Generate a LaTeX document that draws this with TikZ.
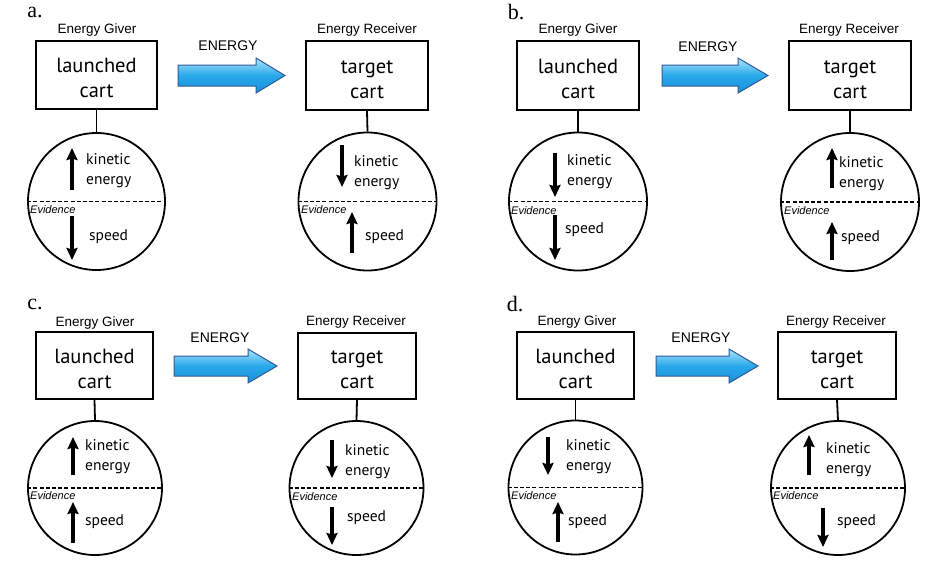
\documentclass[tikz,border=0pt]{standalone}
\usepackage{fontspec}
\usetikzlibrary{arrows.meta}
\newfontfamily\myr{PT Sans}
\newfontfamily\arl{Liberation Sans}
\newfontfamily\srf{Liberation Serif}
\newcommand\twoline[2]{\raisebox{-10.5pt}[0pt][0pt]{\begin{tabular}{@{}c@{}}#1\\#2\end{tabular}}}
\definecolor{arrowline}{RGB}{50,90,150}
\definecolor{arrowtop}{RGB}{170,228,250}
\definecolor{arrowmid}{RGB}{40,168,234}
\definecolor{arrowbot}{RGB}{25,145,218}
\tikzset{
  panellabel/.style={inner sep=0pt, font=\srf\fontsize{22}{24}\selectfont},
  rolelabel/.style={inner sep=0pt, font=\arl\fontsize{13.5}{16}\selectfont},
  cartbox/.style={draw, line width=1.8pt, inner sep=0pt,
    font=\myr\fontsize{20.5}{25}\selectfont},
  evcircle/.style={draw, circle, line width=1.8pt, inner sep=0pt},
  link/.style={line width=1.8pt},
  divider/.style={line width=1.9pt, dash pattern=on 4pt off 2.2pt},
  evid/.style={anchor=west, inner sep=0pt, font=\arl\itshape\fontsize{11}{13}\selectfont},
  ketext/.style={anchor=west, align=left, inner sep=0pt,
    font=\myr\fontsize{15.5}{20}\selectfont},
  sptext/.style={anchor=west, inner sep=0pt, font=\myr\fontsize{15.5}{20}\selectfont},
  quant/.style={line width=3.1pt, -{Stealth[length=12pt,width=11pt,inset=1.5pt]}},
  energyarrow/.style={draw=arrowline, line width=1pt, line join=miter,
    top color=arrowtop, bottom color=arrowbot, middle color=arrowmid},
  energylabel/.style={inner sep=0pt, font=\arl\fontsize{14}{16}\selectfont},
}
\begin{document}
\begin{tikzpicture}[x=1pt,y=-1pt]
\useasboundingbox (0,0) rectangle (928,563);
\fill[white] (0,0) rectangle (928,563);

% ---------------- panel a ----------------
\node[panellabel] (la) at (35,12) {a.};
\node[rolelabel] (aGl) at (97,30) {Energy Giver};
\node[cartbox, minimum width=121pt, minimum height=68pt] (aG) at (96.5,75) {\twoline{launched}{cart}};
\node[evcircle, minimum size=137pt] (aGc) at (96.5,201.5) {};
\draw[link] (aG.south) -- (aGc.north);
\draw[divider] (aGc.west) -- (aGc.east);
\node[evid] (aGev) at (30,210) {Evidence};
\draw[quant] (72,190) -- (72,148);
\node[ketext] (aGk) at (86,171) {kinetic\\energy};
\draw[quant] (72,216) -- (72,260);
\node[sptext] (aGs) at (89,237) {speed};

\node[energylabel] (aEl) at (228,46) {ENERGY};
\path[energyarrow] (178,65) -- (256,65) -- (256,58) -- (285,75.5) -- (256,93) -- (256,86) -- (178,86) -- cycle;

\node[rolelabel] (aRl) at (367,30) {Energy Receiver};
\node[cartbox, minimum width=122pt, minimum height=69pt] (aR) at (367,75.5) {\twoline{target}{cart}};
\node[evcircle, minimum size=138pt] (aRc) at (367.5,201.5) {};
\draw[link] (aR.south) -- (aRc.north);
\draw[divider] (aRc.west) -- (aRc.east);
\node[evid] (aRev) at (301,210) {Evidence};
\draw[quant] (342,145) -- (342,187);
\node[ketext] (aRk) at (354,173) {kinetic\\energy};
\draw[quant] (352,253) -- (352,212);
\node[sptext] (aRs) at (365,237) {speed};

% ---------------- panel b ----------------
\node[panellabel] (lb) at (516,12) {b.};
\node[rolelabel] (bGl) at (578,30) {Energy Giver};
\node[cartbox, minimum width=122pt, minimum height=69pt] (bG) at (578,75.5) {\twoline{launched}{cart}};
\node[evcircle, minimum size=138pt] (bGc) at (578,201.5) {};
\draw[link] (bG.south) -- (bGc.north);
\draw[divider] (bGc.west) -- (bGc.east);
\node[evid] (bGev) at (511,211) {Evidence};
\draw[quant] (555,153) -- (555,197);
\node[ketext] (bGk) at (567,172) {kinetic\\energy};
\draw[quant] (555,215) -- (555,260);
\node[sptext] (bGs) at (565,230) {speed};

\node[energylabel] (bEl) at (708,47) {ENERGY};
\path[energyarrow] (662,65) -- (738,65) -- (738,58) -- (768,75.5) -- (738,93) -- (738,86) -- (662,86) -- cycle;

\node[rolelabel] (bRl) at (849,30) {Energy Receiver};
\node[cartbox, minimum width=122pt, minimum height=69pt] (bR) at (850,75.5) {\twoline{target}{cart}};
\node[evcircle, minimum size=138pt] (bRc) at (850,202) {};
\draw[link] (bR.south) -- (bRc.north);
\draw[divider] (bRc.west) -- (bRc.east);
\node[evid] (bRev) at (784,211) {Evidence};
\draw[quant] (832,188) -- (832,148);
\node[ketext] (bRk) at (839,174) {kinetic\\energy};
\draw[quant] (832,260) -- (832,222);
\node[sptext] (bRs) at (841,238) {speed};

% ---------------- panel c ----------------
\node[panellabel] (lc) at (35,304) {c.};
\node[rolelabel] (cGl) at (95,323) {Energy Giver};
\node[cartbox, minimum width=117pt, minimum height=67pt] (cG) at (94.5,365.5) {\twoline{launched}{cart}};
\node[evcircle, minimum size=134pt] (cGc) at (95,488) {};
\draw[link] (cG.south) -- (cGc.north);
\draw[divider] (cGc.west) -- (cGc.east);
\node[evid] (cGev) at (30,496) {Evidence};
\draw[quant] (73,475) -- (73,437);
\node[ketext] (cGk) at (85,457) {kinetic\\energy};
\draw[quant] (73,543) -- (73,502);
\node[sptext] (cGs) at (85,522) {speed};

\node[energylabel] (cEl) at (220,338) {ENERGY};
\path[energyarrow] (174,356) -- (248,356) -- (248,349) -- (277,366) -- (248,383) -- (248,376) -- (174,376) -- cycle;

\node[rolelabel] (cRl) at (356,322) {Energy Receiver};
\node[cartbox, minimum width=118pt, minimum height=66pt] (cR) at (357,366) {\twoline{target}{cart}};
\node[evcircle, minimum size=134pt] (cRc) at (356.5,488) {};
\draw[link] (cR.south) -- (cRc.north);
\draw[divider] (cRc.west) -- (cRc.east);
\node[evid] (cRev) at (292,497) {Evidence};
\draw[quant] (332,440) -- (332,478);
\node[ketext] (cRk) at (345,462) {kinetic\\energy};
\draw[quant] (332,507) -- (332,545);
\node[sptext] (cRs) at (347,518) {speed};

% ---------------- panel d ----------------
\node[panellabel] (ld) at (515,304) {d.};
\node[rolelabel] (dGl) at (577,322) {Energy Giver};
\node[cartbox, minimum width=117pt, minimum height=67pt] (dG) at (575.5,365.5) {\twoline{launched}{cart}};
\node[evcircle, minimum size=134pt] (dGc) at (575.5,487.5) {};
\draw[link] (dG.south) -- (dGc.north);
\draw[divider] (dGc.west) -- (dGc.east);
\node[evid] (dGev) at (511,496) {Evidence};
\draw[quant] (548,437) -- (548,475);
\node[ketext] (dGk) at (566,457) {kinetic\\energy};
\draw[quant] (558,542) -- (558,502);
\node[sptext] (dGs) at (568,522) {speed};

\node[energylabel] (dEl) at (701,338) {ENERGY};
\path[energyarrow] (656,356) -- (729,356) -- (729,349) -- (758,366) -- (729,383) -- (729,376) -- (656,376) -- cycle;

\node[rolelabel] (dRl) at (836,322) {Energy Receiver};
\node[cartbox, minimum width=118pt, minimum height=67pt] (dR) at (837,365.5) {\twoline{target}{cart}};
\node[evcircle, minimum size=134pt] (dRc) at (838,488) {};
\draw[link] (dR.south) -- (dRc.north);
\draw[divider] (dRc.west) -- (dRc.east);
\node[evid] (dRev) at (773,496) {Evidence};
\draw[quant] (809,475) -- (809,435);
\node[ketext] (dRk) at (826,460) {kinetic\\energy};
\draw[quant] (823,508) -- (823,547);
\node[sptext] (dRs) at (837,522) {speed};
\end{tikzpicture}
\end{document}
